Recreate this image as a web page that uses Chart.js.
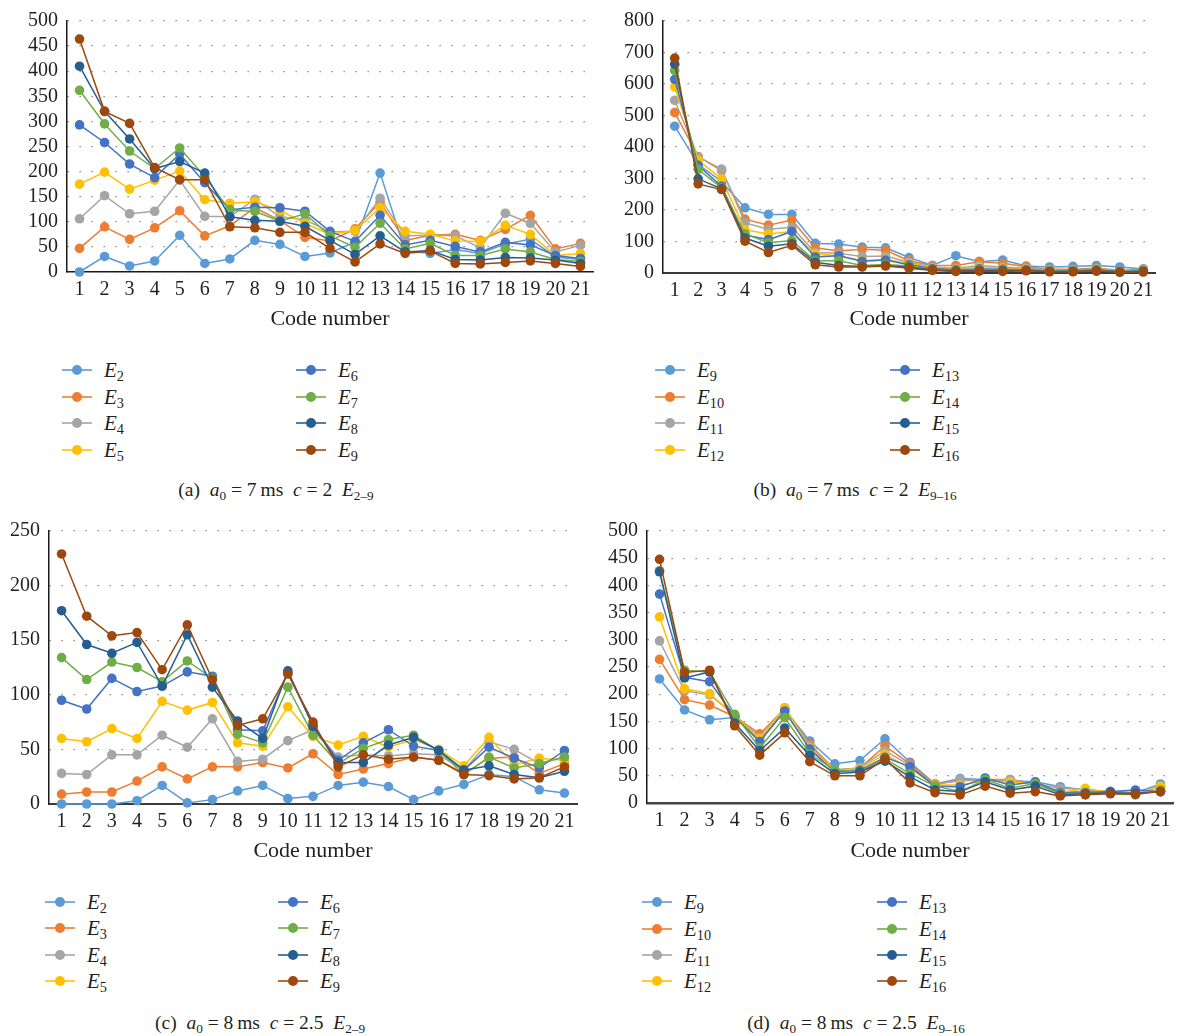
<!DOCTYPE html>
<html><head><meta charset="utf-8">
<script src="https://cdn.jsdelivr.net/npm/chart.js@4.4.1/dist/chart.umd.min.js"></script>
<style>
html,body{margin:0;padding:0;background:#fff;}
#root{position:relative;width:1179px;height:1036px;overflow:hidden;font-family:"Liberation Serif","Times New Roman",serif;color:#231f20;}
canvas{position:absolute;}
.leg{position:absolute;height:0;}
.leg .ln{position:absolute;top:-1px;height:2px;width:30px;left:0;opacity:0.8;}
.leg .dot{position:absolute;width:10px;height:10px;border-radius:50%;top:-5px;left:10px;}
.leg .tx{position:absolute;left:42px;top:0;transform:translateY(-50%);font-size:21px;line-height:1;white-space:nowrap;}
.sub{font-size:0.68em;position:relative;top:0.3em;line-height:0;font-style:normal;}
.cap{position:absolute;transform:translate(-50%,-50%);font-size:19.5px;line-height:1;white-space:nowrap;}
</style></head>
<body><div id="root">
<canvas id="chartA" width="600" height="335" style="left:0px;top:0px;width:600px;height:335px;"></canvas>
<canvas id="chartB" width="589" height="335" style="left:590px;top:0px;width:589px;height:335px;"></canvas>
<canvas id="chartC" width="590" height="357" style="left:0px;top:510px;width:590px;height:357px;"></canvas>
<canvas id="chartD" width="589" height="357" style="left:590px;top:510px;width:589px;height:357px;"></canvas>
</div>
<script>
// ---------- data ----------
const codeNumbers = ['1','2','3','4','5','6','7','8','9','10','11','12','13','14','15','16','17','18','19','20','21'];
const ticksA = {max: 500, step: 50};
const ticksB = {max: 800, step: 100};
const ticksC = {max: 250, step: 50};
const ticksD = {max: 500, step: 50};
const subsLow = ['2','3','4','5','6','7','8','9'];
const subsHigh = ['9','10','11','12','13','14','15','16'];

// (a) a0 = 7 ms, c = 2, E2-9
const a_E2 = [0, 31, 12, 22, 73, 17, 26, 63, 55, 31, 38, 60, 197, 42, 37, 45, 37, 56, 65, 30, 25];
const a_E3 = [47, 90, 65, 88, 122, 72, 92, 128, 103, 69, 62, 86, 139, 63, 73, 75, 63, 85, 113, 46, 57];
const a_E4 = [106, 152, 116, 121, 183, 111, 110, 145, 110, 104, 80, 81, 147, 72, 73, 72, 48, 117, 97, 40, 53];
const a_E5 = [175, 199, 165, 183, 201, 144, 137, 140, 123, 97, 75, 83, 128, 81, 75, 62, 61, 93, 75, 33, 37];
const a_E6 = [293, 258, 215, 188, 235, 178, 124, 129, 128, 121, 81, 61, 113, 54, 63, 51, 40, 59, 54, 33, 27];
const a_E7 = [362, 295, 241, 206, 247, 190, 123, 121, 101, 116, 72, 49, 97, 46, 57, 33, 33, 46, 40, 25, 21];
const a_E8 = [410, 320, 265, 206, 220, 197, 110, 103, 101, 91, 63, 35, 72, 40, 43, 25, 24, 29, 28, 24, 17];
const a_E9 = [464, 320, 296, 208, 184, 184, 90, 88, 79, 79, 47, 20, 56, 37, 42, 17, 16, 19, 22, 17, 11];

// (b) a0 = 7 ms, c = 2, E9-16
const b_E9  = [466, 345, 290, 207, 186, 186, 94, 92, 82, 80, 49, 24, 55, 36, 41, 22, 19, 21, 24, 19, 13];
const b_E10 = [509, 370, 325, 171, 152, 168, 80, 70, 75, 72, 39, 24, 24, 36, 31, 20, 12, 12, 16, 8, 12];
const b_E11 = [548, 368, 330, 159, 139, 145, 65, 63, 52, 54, 34, 19, 15, 24, 19, 15, 10, 10, 13, 6, 10];
const b_E12 = [591, 358, 299, 137, 124, 132, 60, 55, 39, 44, 30, 16, 12, 18, 15, 12, 8, 9, 12, 5, 9];
const b_E13 = [615, 342, 275, 121, 106, 132, 51, 55, 37, 41, 26, 14, 10, 13, 12, 10, 7, 8, 10, 5, 8];
const b_E14 = [643, 329, 270, 124, 96, 103, 39, 39, 24, 27, 22, 12, 8, 10, 9, 9, 6, 6, 8, 4, 6];
const b_E15 = [663, 299, 267, 111, 85, 93, 34, 24, 21, 24, 18, 10, 6, 8, 7, 8, 5, 5, 7, 3, 5];
const b_E16 = [682, 283, 265, 101, 65, 88, 26, 19, 19, 22, 15, 8, 5, 6, 5, 7, 4, 4, 6, 3, 3];

// (c) a0 = 8 ms, c = 2.5, E2-9
const c_E2 = [0, 0, 0, 3, 17, 1, 4, 12, 17, 5, 7, 17, 20, 16, 4, 12, 18, 27, 25, 13, 10];
const c_E3 = [9, 11, 11, 21, 34, 23, 34, 34, 38, 33, 46, 27, 32, 37, 43, 40, 28, 42, 43, 28, 37];
const c_E4 = [28, 27, 45, 45, 63, 52, 78, 39, 41, 58, 68, 43, 45, 44, 46, 45, 31, 57, 50, 37, 43];
const c_E5 = [60, 57, 69, 60, 94, 86, 93, 56, 53, 89, 62, 54, 62, 52, 59, 50, 35, 61, 36, 42, 40];
const c_E6 = [95, 87, 115, 103, 108, 121, 117, 68, 67, 120, 72, 40, 56, 68, 53, 49, 31, 52, 42, 33, 49];
const c_E7 = [134, 114, 130, 125, 112, 131, 115, 64, 56, 107, 63, 37, 51, 59, 63, 49, 27, 43, 33, 37, 43];
const c_E8 = [177, 146, 138, 148, 108, 155, 107, 76, 60, 122, 71, 38, 38, 54, 61, 49, 31, 35, 27, 24, 30];
const c_E9 = [229, 172, 154, 157, 123, 164, 114, 72, 78, 119, 75, 34, 45, 41, 43, 40, 27, 26, 23, 24, 34];

// (d) a0 = 8 ms, c = 2.5, E9-16
const d_E9  = [228, 171, 153, 157, 114, 171, 114, 72, 78, 118, 75, 35, 45, 43, 41, 39, 30, 24, 21, 19, 35];
const d_E10 = [264, 190, 180, 159, 127, 174, 108, 61, 64, 105, 72, 35, 41, 43, 43, 36, 21, 21, 21, 18, 30];
const d_E11 = [298, 206, 199, 161, 121, 175, 105, 60, 65, 96, 69, 33, 43, 42, 43, 35, 27, 25, 19, 18, 30];
const d_E12 = [342, 210, 201, 161, 118, 175, 101, 60, 63, 90, 63, 33, 33, 41, 39, 35, 19, 27, 19, 18, 31];
const d_E13 = [384, 231, 223, 159, 113, 169, 99, 57, 60, 84, 67, 31, 30, 46, 33, 39, 19, 19, 21, 24, 21];
const d_E14 = [427, 244, 241, 163, 101, 157, 90, 61, 57, 81, 54, 31, 21, 43, 27, 36, 17, 18, 18, 15, 24];
const d_E15 = [425, 230, 241, 147, 96, 138, 87, 54, 57, 77, 48, 24, 21, 39, 24, 31, 15, 17, 19, 18, 21];
const d_E16 = [448, 240, 244, 142, 88, 129, 76, 50, 50, 81, 37, 19, 15, 31, 18, 21, 13, 15, 17, 16, 21];

// ---------- styling ----------
const seriesColors = ['#5B9BD5','#ED7D31','#A5A5A5','#FFC000','#4472C4','#70AD47','#255E91','#9E480E'];
const FONT = '"Liberation Serif", "Times New Roman", serif';
const TXT = '#231f20';
Chart.defaults.font.family = FONT;

function buildChart(id, series, subs, tk, g) {
  const datasets = series.map((d, i) => ({
    label: 'E' + subs[i],
    data: d,
    borderColor: seriesColors[i],
    backgroundColor: seriesColors[i],
    pointBackgroundColor: seriesColors[i],
    pointBorderColor: seriesColors[i],
    borderWidth: 1.5,
    pointRadius: 4.8,
    pointHoverRadius: 4.8,
    pointBorderWidth: 0,
    tension: 0,
    fill: false,
    clip: false,
    order: series.length - i
  }));
  return new Chart(document.getElementById(id), {
    type: 'line',
    data: { labels: codeNumbers, datasets },
    options: {
      responsive: false, animation: false, devicePixelRatio: 1, events: [],
      layout: { padding: { top: g.padTop, right: g.padRight, left: 0, bottom: 0 } },
      plugins: { legend: { display: false }, tooltip: { enabled: false } },
      scales: {
        x: {
          type: 'category', offset: true,
          grid: { display: false, drawTicks: false },
          border: { display: true, color: g.axisColor, width: g.axisWidth },
          ticks: { color: TXT, font: { size: 20 }, padding: 6, autoSkip: false, maxRotation: 0, minRotation: 0 },
          title: { display: true, text: 'Code number', color: TXT, font: { size: 22, lineHeight: 1.2 }, padding: { top: 0, bottom: 3 } },
          afterFit: (s) => { s.height = g.xAxisH; }
        },
        y: {
          min: 0, max: tk.max,
          grid: { color: '#7a7a7a', lineWidth: 1.2, drawTicks: false },
          border: { display: true, color: '#1a1a1a', width: 1.5, dash: [1.3, 10.7] },
          ticks: { stepSize: tk.step, padding: 9, color: TXT, font: { size: 20 }, autoSkip: false },
          afterFit: (s) => { s.width = g.yAxisW; }
        }
      }
    }
  });
}

buildChart('chartA', [a_E2,a_E3,a_E4,a_E5,a_E6,a_E7,a_E8,a_E9], subsLow, ticksA,
  { yAxisW: 67, padTop: 12, padRight: 7, xAxisH: 63, axisColor: '#1a1a1a', axisWidth: 1.6 });
buildChart('chartB', [b_E9,b_E10,b_E11,b_E12,b_E13,b_E14,b_E15,b_E16], subsHigh, ticksB,
  { yAxisW: 73, padTop: 13, padRight: 24, xAxisH: 62, axisColor: '#3a3a3a', axisWidth: 2 });
buildChart('chartC', [c_E2,c_E3,c_E4,c_E5,c_E6,c_E7,c_E8,c_E9], subsLow, ticksC,
  { yAxisW: 49, padTop: 21, padRight: 13, xAxisH: 63, axisColor: '#3a3a3a', axisWidth: 2 });
buildChart('chartD', [d_E9,d_E10,d_E11,d_E12,d_E13,d_E14,d_E15,d_E16], subsHigh, ticksD,
  { yAxisW: 57, padTop: 16, padRight: 6, xAxisH: 64, axisColor: '#444', axisWidth: 2.5 });

// ---------- legends & captions ----------
const root = document.getElementById('root');
function buildLegend(subs, col1, col2, rows) {
  subs.forEach((s, i) => {
    const el = document.createElement('div');
    el.className = 'leg';
    el.style.left = (i < 4 ? col1 : col2) + 'px';
    el.style.top = rows[i % 4] + 'px';
    const c = seriesColors[i];
    el.innerHTML = '<div class="ln" style="background:' + c + '"></div><div class="dot" style="background:' + c + '"></div>' +
      '<div class="tx"><i>E</i><span class="sub">' + s + '</span></div>';
    root.appendChild(el);
  });
}
buildLegend(subsLow, 62, 296, [370, 397, 423, 450]);
buildLegend(subsHigh, 655, 890, [370, 397, 423, 450]);
buildLegend(subsLow, 45, 278, [902, 928, 955, 981]);
buildLegend(subsHigh, 642, 877, [902, 929, 955, 981]);

function caption(x, y, tag, a0, c, range) {
  const el = document.createElement('div');
  el.className = 'cap';
  el.style.left = x + 'px';
  el.style.top = y + 'px';
  el.innerHTML = '(' + tag + ')&ensp;<i>a</i><span class="sub">0</span> = ' + a0 + '&thinsp;ms&ensp;<i>c</i> = ' + c +
    '&ensp;<i>E</i><span class="sub">' + range + '</span>';
  root.appendChild(el);
}
caption(276, 490, 'a', '7', '2', '2–9');
caption(855, 490, 'b', '7', '2', '9–16');
caption(260, 1023, 'c', '8', '2.5', '2–9');
caption(856, 1023, 'd', '8', '2.5', '9–16');
</script>
</body></html>
